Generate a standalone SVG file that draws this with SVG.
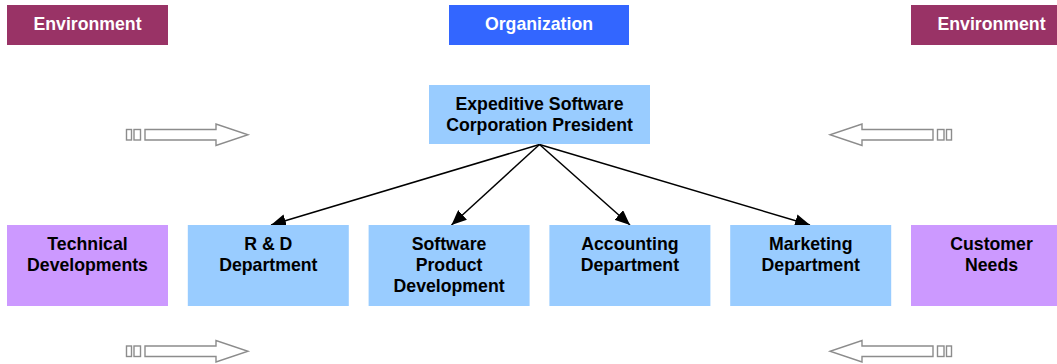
<svg xmlns="http://www.w3.org/2000/svg" width="1057" height="364" viewBox="0 0 1057 364">
  <defs>
    <style>
      text { font-family: "Liberation Sans", Arial, sans-serif; font-weight: bold; font-size: 17.7px; text-anchor: middle; fill: #000; }
      .hdr text { fill: #fff; }
      .env { fill: #993366; }
      .org { fill: #3366FF; }
      .dept { fill: #99CCFF; }
      .ext { fill: #CC99FF; }
      .link { stroke: #000; stroke-width: 1.5; fill: none; marker-end: url(#head); }
      .flow { fill: #fff; stroke: #8c8c8c; stroke-width: 1.4; }
    </style>
    <marker id="head" markerUnits="userSpaceOnUse" markerWidth="16" markerHeight="13" refX="15" refY="6.5" orient="auto">
      <path d="M0,0 L15,6.5 L0,13 Z" fill="#000"/>
    </marker>
    <!-- hollow block arrow with two tail segments, pointing right -->
    <g id="flowArrow">
      <rect class="flow" x="126.5" y="129.5" width="5" height="10.5"/>
      <rect class="flow" x="134" y="129.5" width="6.5" height="10.5"/>
      <path class="flow" d="M145,129.5 L216,129.5 L216,124 L248,134.75 L216,145.5 L216,140 L145,140 Z"/>
    </g>
  </defs>

  <rect width="1057" height="364" fill="#fff"/>

  <!-- header labels -->
  <g id="env-left" class="hdr">
    <rect class="env" x="7" y="5" width="161" height="40"/>
    <text x="87.5" y="29.5">Environment</text>
  </g>
  <g id="organization" class="hdr">
    <rect class="org" x="449" y="5" width="180" height="40"/>
    <text x="539" y="29.5">Organization</text>
  </g>
  <g id="env-right" class="hdr">
    <rect class="env" x="911" y="5" width="161" height="40"/>
    <text x="991.5" y="29.5">Environment</text>
  </g>

  <!-- environmental influence arrows -->
  <g id="flows">
    <use href="#flowArrow"/>
    <use href="#flowArrow" transform="translate(0,216.5)"/>
    <use href="#flowArrow" transform="translate(1078,0) scale(-1,1)"/>
    <use href="#flowArrow" transform="translate(1078,216.5) scale(-1,1)"/>
  </g>

  <!-- reporting lines -->
  <g id="connectors">
    <line class="link" x1="539.5" y1="144.5" x2="271" y2="225"/>
    <line class="link" x1="539.5" y1="144.5" x2="451.5" y2="225"/>
    <line class="link" x1="539.5" y1="144.5" x2="630" y2="225"/>
    <line class="link" x1="539.5" y1="144.5" x2="810" y2="225"/>
  </g>

  <g id="president">
    <rect class="dept" x="429" y="85" width="221" height="59"/>
    <text x="539.5" y="109.5">Expeditive Software</text>
    <text x="539.5" y="130.5">Corporation President</text>
  </g>

  <g id="technical">
    <rect class="ext" x="7" y="225" width="161" height="81"/>
    <text x="87.5" y="250">Technical</text>
    <text x="87.5" y="271">Developments</text>
  </g>
  <g id="rnd">
    <rect class="dept" x="187.8" y="225" width="161" height="81"/>
    <text x="268.3" y="250">R &amp; D</text>
    <text x="268.3" y="271">Department</text>
  </g>
  <g id="software">
    <rect class="dept" x="368.6" y="225" width="161" height="81"/>
    <text x="449.1" y="250">Software</text>
    <text x="449.1" y="271">Product</text>
    <text x="449.1" y="292">Development</text>
  </g>
  <g id="accounting">
    <rect class="dept" x="549.4" y="225" width="161" height="81"/>
    <text x="629.9" y="250">Accounting</text>
    <text x="629.9" y="271">Department</text>
  </g>
  <g id="marketing">
    <rect class="dept" x="730.2" y="225" width="161" height="81"/>
    <text x="810.7" y="250">Marketing</text>
    <text x="810.7" y="271">Department</text>
  </g>
  <g id="customer">
    <rect class="ext" x="911" y="225" width="161" height="81"/>
    <text x="991.5" y="250">Customer</text>
    <text x="991.5" y="271">Needs</text>
  </g>
</svg>
